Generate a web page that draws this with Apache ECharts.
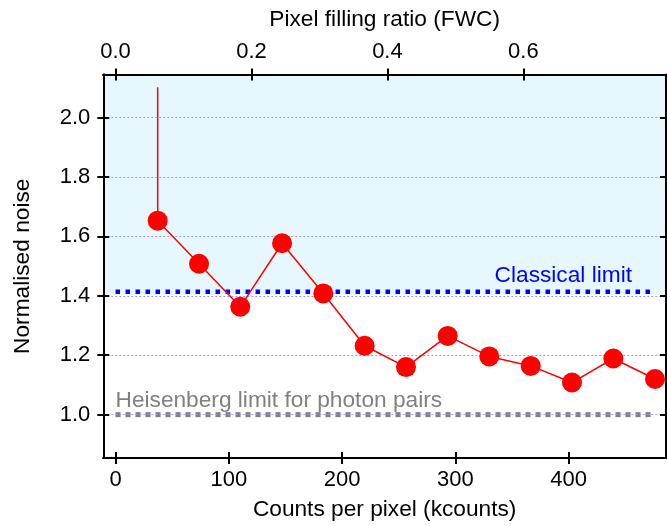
<!DOCTYPE html>
<html>
<head>
<meta charset="utf-8">
<script src="https://cdn.jsdelivr.net/npm/echarts@6/dist/echarts.min.js"></script>
<style>
  html, body { margin: 0; padding: 0; background: #fff; }
  #chart { width: 667px; height: 526px; }
</style>
</head>
<body>
<div id="chart"></div>
<script>
// Normalised noise measured at increasing exposure
const countsK = [37.2, 73.7, 110.1, 147.0, 183.4, 219.9, 256.4, 293.2, 329.9, 366.5, 402.9, 439.4, 476.2];
const noise   = [1.653, 1.508, 1.363, 1.577, 1.408, 1.232, 1.160, 1.265, 1.196, 1.164, 1.108, 1.189, 1.120];
// Upper end of the error bar on the first point
const errorUpper = [2.102];

// Reference levels
const classicalLimit = 1.414;   // sqrt(2)
const heisenbergLimit = 1.0;
const shadedFrom = 1.405;       // lower edge of the shaded classical region

// Full well capacity in kcounts (top axis = counts / FWC)
const fullWellK = 600;

// Tick values
const countTicks = [0, 100, 200, 300, 400];
const fillTicks  = [0.0, 0.2, 0.4, 0.6];
const noiseTicks = [1.0, 1.2, 1.4, 1.6, 1.8, 2.0];

// Axis extents
const X_MIN = -10.8, X_MAX = 485.9;
const Y_MIN = 0.854, Y_MAX = 2.145;

const FONT = "'Liberation Sans', Arial, Helvetica, sans-serif";
const FS = 22;     // tick labels
const FS_NAME = 22.7; // axis names and annotations
const TICK = { show: true, length: 6, lineStyle: { color: '#000', width: 2 } };
const AXLINE = { show: true, onZero: false, lineStyle: { color: '#000', width: 2 } };
const NAME_STYLE = { fontFamily: FONT, fontSize: FS_NAME, color: '#000' };

function xAx(pos, inside, withLabels, extra) {
  return Object.assign({
    type: 'value', position: pos, min: X_MIN, max: X_MAX, z: 10,
    axisLine: AXLINE,
    axisTick: Object.assign({}, TICK, { inside: inside, customValues: countTicks }),
    axisLabel: { show: withLabels, customValues: countTicks, fontFamily: FONT, fontSize: FS, color: '#000', margin: 11 },
    splitLine: { show: false }
  }, extra || {});
}

function yAx(pos, inside, withLabels, extra) {
  return Object.assign({
    type: 'value', position: pos, min: Y_MIN, max: Y_MAX, z: 10,
    axisLine: AXLINE,
    axisTick: Object.assign({}, TICK, { inside: inside, customValues: noiseTicks }),
    axisLabel: { show: withLabels, customValues: noiseTicks, formatter: v => v.toFixed(1),
                 fontFamily: FONT, fontSize: FS, color: '#000', margin: 13 },
    splitLine: { show: false }
  }, extra || {});
}

function topAx(inside, withLabels, extra) {
  return Object.assign({
    type: 'value', position: 'top', min: X_MIN / fullWellK, max: X_MAX / fullWellK, z: 10,
    axisLine: AXLINE,
    axisTick: Object.assign({}, TICK, { inside: inside, customValues: fillTicks }),
    axisLabel: { show: withLabels, customValues: fillTicks, formatter: v => v.toFixed(1),
                 fontFamily: FONT, fontSize: FS, color: '#000', margin: 12 },
    splitLine: { show: false }
  }, extra || {});
}

const lastX = countsK[countsK.length - 1];
const points = countsK.map((x, i) => [x, noise[i]]);

const option = {
  animation: false,
  backgroundColor: '#fff',
  grid: { left: 103.3, top: 74.5, width: 562.7, height: 384.7, containLabel: false },
  xAxis: [
    xAx('bottom', false, true, {
      name: 'Counts per pixel (kcounts)', nameLocation: 'middle', nameGap: 40, nameTextStyle: NAME_STYLE
    }),
    xAx('bottom', true, false),
    topAx(false, true, {
      name: 'Pixel filling ratio (FWC)', nameLocation: 'middle', nameGap: 43, nameTextStyle: NAME_STYLE
    }),
    topAx(true, false)
  ],
  yAxis: [
    yAx('left', false, true, {
      name: 'Normalised noise', nameLocation: 'middle', nameGap: 69, nameTextStyle: NAME_STYLE
    }),
    yAx('left', true, false),
    yAx('right', true, false)
  ],
  series: [
    {
      // shaded region above the classical limit
      type: 'line', data: [], z: 1, silent: true,
      markArea: {
        silent: true,
        itemStyle: { color: '#e6f7fd' },
        data: [[{ yAxis: shadedFrom }, { yAxis: Y_MAX }]]
      }
    },
    {
      // horizontal grid lines
      type: 'line', data: [], z: 2, silent: true,
      markLine: {
        silent: true, symbol: 'none', animation: false,
        label: { show: false },
        lineStyle: { color: '#9a9ae8', width: 1, type: [2, 2] },
        data: noiseTicks.map(v => ({ yAxis: v }))
      }
    },
    {
      name: 'Classical limit', type: 'line', z: 3, silent: true,
      data: [[0, classicalLimit], [lastX, classicalLimit]],
      symbol: 'none',
      lineStyle: { color: '#0000ff', width: 4.5, type: [4.5, 5.5], cap: 'butt' }
    },
    {
      name: 'Heisenberg limit', type: 'line', z: 3, silent: true,
      data: [[0, heisenbergLimit], [lastX, heisenbergLimit]],
      symbol: 'none',
      lineStyle: { color: '#808080', width: 5, type: [5, 5], cap: 'butt' }
    },
    {
      name: 'Error bar', type: 'line', z: 4, silent: true,
      data: [[countsK[0], noise[0]], [countsK[0], errorUpper[0]]],
      symbol: 'none',
      lineStyle: { color: '#ff0000', width: 1.5 }
    },
    {
      name: 'Noise', type: 'line', z: 5,
      data: points,
      symbol: 'circle', symbolSize: 20,
      itemStyle: { color: '#ff0000' },
      lineStyle: { color: '#ff0000', width: 1.5 }
    }
  ],
  graphic: [
    {
      type: 'text', z: 20, x: 632, y: 276,
      style: { text: 'Classical limit', fill: '#0000ff', font: FS_NAME + 'px ' + FONT,
               textAlign: 'right', textVerticalAlign: 'middle', verticalAlign: 'middle' }
    },
    {
      type: 'text', z: 20, x: 115.5, y: 401,
      style: { text: 'Heisenberg limit for photon pairs', fill: '#808080', font: FS_NAME + 'px ' + FONT,
               textAlign: 'left', textVerticalAlign: 'middle', verticalAlign: 'middle' }
    }
  ]
};

const chart = echarts.init(document.getElementById('chart'), null, { renderer: 'canvas' });
chart.setOption(option);
</script>
</body>
</html>
